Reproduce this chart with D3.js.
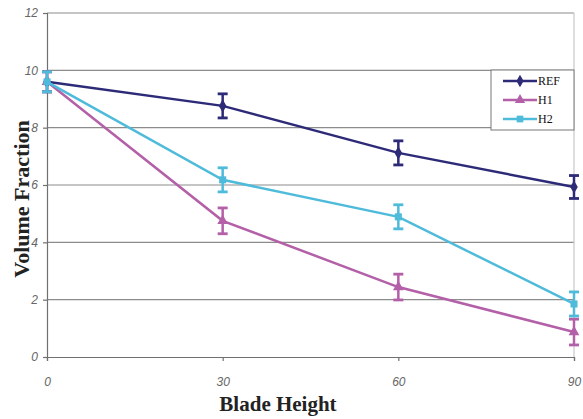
<!DOCTYPE html>
<html><head><meta charset="utf-8">
<script src="https://cdn.jsdelivr.net/npm/d3@7"></script>
<style>body{margin:0;background:#fff}</style>
</head><body><svg id="c" width="583" height="419"></svg>
<script>
const heights = [0, 30, 60, 90];
const refVals = [9.6, 8.76, 7.12, 5.93];
const refErr  = [0.35, 0.42, 0.42, 0.4];
const h1Vals  = [9.6, 4.75, 2.44, 0.87];
const h1Err   = [0.35, 0.45, 0.45, 0.45];
const h2Vals  = [9.6, 6.18, 4.89, 1.85];
const h2Err   = [0.35, 0.42, 0.42, 0.42];
const seriesNames = ["REF", "H1", "H2"];
const yTicks = [0, 2, 4, 6, 8, 10, 12];
const xTicks = [0, 30, 60, 90];

const colors = {REF: "#2d2a78", H1: "#b460a8", H2: "#4fbbdb"};
const series = [
  {name: "REF", vals: refVals, err: refErr, sym: d3.symbolDiamond},
  {name: "H1", vals: h1Vals, err: h1Err, sym: d3.symbolTriangle},
  {name: "H2", vals: h2Vals, err: h2Err, sym: d3.symbolSquare}
];

const svg = d3.select("#c");
const L = 47, R = 574, T = 13, B = 357;
const x = d3.scaleLinear().domain([0, 90]).range([L, R]);
const y = d3.scaleLinear().domain([0, 12]).range([B, T]);

svg.append("g").selectAll("line").data(yTicks.filter(d => d > 0)).join("line")
  .attr("x1", L).attr("x2", R).attr("y1", d => y(d)).attr("y2", d => y(d))
  .attr("stroke", "#8c8c8c").attr("stroke-width", 1.2);
svg.append("line").attr("x1", R).attr("x2", R).attr("y1", T).attr("y2", B)
  .attr("stroke", "#c8c8c8").attr("stroke-width", 1.2);

const yAxis = svg.append("g").attr("transform", `translate(${L},0)`)
  .call(d3.axisLeft(y).tickValues(yTicks).tickSize(4).tickPadding(5));
const xAxis = svg.append("g").attr("transform", `translate(0,${B})`)
  .call(d3.axisBottom(x).tickValues(xTicks).tickSize(4).tickPadding(16));
[yAxis, xAxis].forEach(a => {
  a.select(".domain").attr("stroke", "#707070").attr("stroke-width", 1.2);
  a.selectAll(".tick line").attr("stroke", "#707070").attr("stroke-width", 1.2);
  a.selectAll("text").attr("fill", "#666").attr("font-style", "italic")
    .attr("font-family", "Liberation Sans, Arial, sans-serif").attr("font-size", 12);
});

const line = d3.line().x((d, i) => x(heights[i])).y(d => y(d));

series.forEach(s => {
  const g = svg.append("g");
  const c = colors[s.name];
  g.append("path").attr("d", line(s.vals)).attr("fill", "none")
    .attr("stroke", c).attr("stroke-width", 2.5);
  s.vals.forEach((v, i) => {
    const cx = x(heights[i]);
    const y1 = y(v + s.err[i]), y2 = y(v - s.err[i]);
    g.append("line").attr("x1", cx).attr("x2", cx).attr("y1", y1).attr("y2", y2)
      .attr("stroke", c).attr("stroke-width", 2.5);
    [y1, y2].forEach(yy => g.append("line").attr("x1", cx - 5).attr("x2", cx + 5)
      .attr("y1", yy).attr("y2", yy).attr("stroke", c).attr("stroke-width", 2.8));
    g.append("path").attr("d", d3.symbol().type(s.sym).size(50)())
      .attr("transform", `translate(${cx},${y(v)})`).attr("fill", c);
  });
});

const lg = svg.append("g");
lg.append("rect").attr("x", 491).attr("y", 70).attr("width", 83).attr("height", 60)
  .attr("fill", "#fff").attr("stroke", "#777").attr("stroke-width", 1);
series.forEach((s, i) => {
  const yy = 81 + i * 19;
  const c = colors[s.name];
  lg.append("line").attr("x1", 503).attr("x2", 537).attr("y1", yy).attr("y2", yy)
    .attr("stroke", c).attr("stroke-width", 2.5);
  lg.append("path").attr("d", d3.symbol().type(s.sym).size(45)())
    .attr("transform", `translate(520,${yy})`).attr("fill", c);
  lg.append("text").attr("x", 538).attr("y", yy + 4).text(seriesNames[i])
    .attr("font-family", "Liberation Serif, serif").attr("font-size", 12).attr("fill", "#111");
});

svg.append("text").attr("x", 278).attr("y", 411).attr("text-anchor", "middle")
  .attr("font-family", "Liberation Serif, serif").attr("font-weight", "bold")
  .attr("font-size", 21).attr("fill", "#222").text("Blade Height");
svg.append("text").attr("transform", "translate(29,199) rotate(-90)").attr("text-anchor", "middle")
  .attr("font-family", "Liberation Serif, serif").attr("font-weight", "bold")
  .attr("font-size", 22).attr("fill", "#222").text("Volume Fraction");
</script></body></html>
